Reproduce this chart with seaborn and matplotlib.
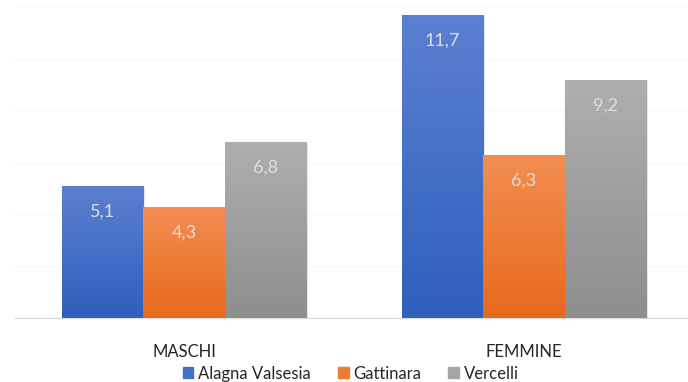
import numpy as np
import pandas as pd
import matplotlib
matplotlib.use("Agg")
import matplotlib.pyplot as plt
import matplotlib.colors as mcolors
import seaborn as sns

# Data
categories = ["MASCHI", "FEMMINE"]
series = ["Alagna Valsesia", "Gattinara", "Vercelli"]
alagna = [5.1, 11.7]
gattinara = [4.3, 6.3]
vercelli = [6.8, 9.2]

df = pd.DataFrame({
    "categoria": categories * 3,
    "comune": [s for s in series for _ in categories],
    "valore": alagna + gattinara + vercelli,
})

base_colors = {"Alagna Valsesia": "#4472c4", "Gattinara": "#ed7d31", "Vercelli": "#a5a5a5"}
grad = {
    "Alagna Valsesia": ("#5c80d0", "#2f5fbd"),
    "Gattinara": ("#f28e52", "#e8691b"),
    "Vercelli": ("#afafaf", "#8e8e8e"),
}

sns.set_theme(style="white")
plt.rcParams["font.family"] = ["Lato", "DejaVu Sans"]

fig = plt.figure(figsize=(6.88, 3.82), dpi=100)
ax = fig.add_axes([14 / 688, 64 / 382, 680 / 688, 310.8 / 382])

sns.barplot(data=df, x="categoria", y="valore", hue="comune", order=categories,
            hue_order=series, palette=base_colors, width=0.72, gap=0,
            saturation=1, ax=ax, legend=False)

ax.set_ylim(0, 12)
ax.set_xlim(-0.5, 1.5)

# vertical gradient fill on each bar, with a soft drop shadow
for cont, name in zip(ax.containers, series):
    top_c, bot_c = grad[name]
    cmap = mcolors.LinearSegmentedColormap.from_list(name, [bot_c, top_c])
    for bar, val in zip(cont.patches, cont.datavalues):
        x0 = bar.get_x()
        w = bar.get_width()
        h = bar.get_height()
        shadow = plt.Rectangle((x0 + 0.006, 0), w, h - 0.04, color="#000000",
                               alpha=0.12, zorder=1.5, lw=0)
        ax.add_patch(shadow)
        g = np.linspace(0, 1, 256).reshape(-1, 1)
        im = ax.imshow(g, extent=(x0, x0 + w, 0, h), origin="lower", cmap=cmap,
                       aspect="auto", zorder=2.5, interpolation="bilinear")
        im.set_clip_path(bar)
        bar.set_zorder(2)
        ax.text(x0 + w / 2, h - 1.0, f"{val:.1f}".replace(".", ","),
                ha="center", va="center", color="#dedede", fontsize=13,
                zorder=4)

ax.set_ylim(0, 12)
ax.set_xlim(-0.5, 1.5)

ax.set_yticks(np.arange(0, 13, 2))
ax.yaxis.grid(True, color="#f9f9f9", lw=0.8)
ax.set_axisbelow(True)
ax.tick_params(axis="y", left=False, labelleft=False)
ax.tick_params(axis="x", bottom=False, pad=13, labelsize=12, labelcolor="#262626")
ax.set_xlabel("")
ax.set_ylabel("")
for s in ["top", "right", "left"]:
    ax.spines[s].set_visible(False)
ax.spines["bottom"].set_color("#d9d9d9")
ax.spines["bottom"].set_linewidth(0.8)

handles = [plt.Rectangle((0, 0), 1, 1, color=base_colors[s]) for s in series]
fig.legend(handles, series, loc="center", bbox_to_anchor=(0.51, 0.022), ncol=3,
           frameon=False, fontsize=12, handlelength=0.65, handleheight=0.65,
           handletextpad=0.3, columnspacing=1.6, labelcolor="#262626")

fig.savefig("out.png", dpi=100)
